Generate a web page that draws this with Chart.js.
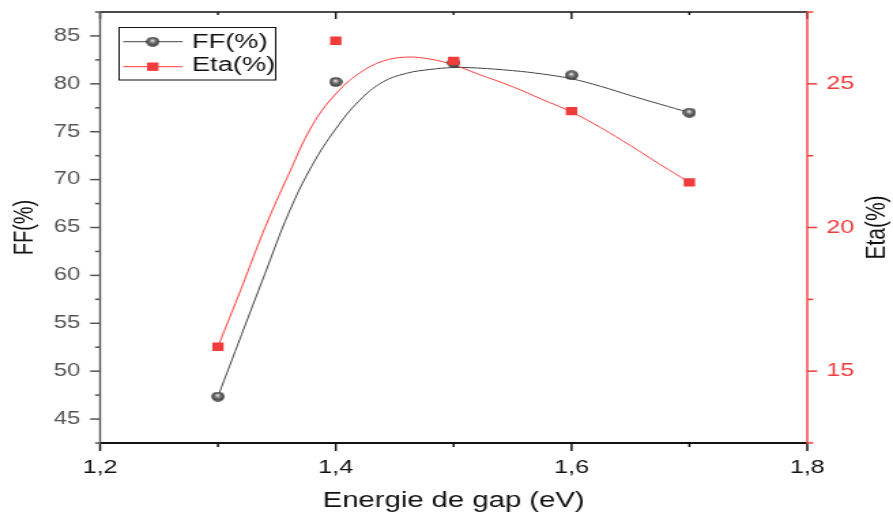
<!DOCTYPE html>
<html>
<head>
<meta charset="utf-8">
<title>FF et Eta vs Energie de gap</title>
<script src="https://cdn.jsdelivr.net/npm/chart.js@4.4.1/dist/chart.umd.min.js"></script>
<style>
  html, body { margin: 0; padding: 0; background: #fff; }
</style>
</head>
<body>
<!-- the original figure is stretched horizontally, so the canvas is drawn narrower and widened by css -->
<canvas id="gapChart" width="656" height="516" style="display:block;width:893px;height:516px"></canvas>
<script>
// measured points
const gapEnergy = [1.3, 1.4, 1.5, 1.6, 1.7];
const ffValues = [47.35, 80.2, 82.2, 80.9, 77.0];
const etaValues = [15.85, 26.5, 25.8, 24.05, 21.57];

// smoothed curves
const fitEnergy = [1.30, 1.32, 1.34, 1.36, 1.38, 1.40, 1.42, 1.44, 1.46, 1.48, 1.50, 1.52, 1.55, 1.575, 1.60, 1.625, 1.65, 1.675, 1.70];
const ffFit = [47.35, 53.8, 60.2, 66.5, 71.5, 75.3, 78.25, 80.2, 81.1, 81.5, 81.7, 81.65, 81.38, 81.03, 80.53, 79.73, 78.78, 77.88, 77.0];
const etaFit = [15.85, 17.9, 20.0, 21.85, 23.55, 24.65, 25.37, 25.79, 25.93, 25.86, 25.66, 25.35, 24.9, 24.46, 24.02, 23.47, 22.85, 22.2, 21.57];

// axis ticks
const xTicks = [1.2, 1.4, 1.6, 1.8];
const xMinor = [1.3, 1.5, 1.7];
const ffTicks = [45, 50, 55, 60, 65, 70, 75, 80, 85];
const ffMinor = [42.5, 47.5, 52.5, 57.5, 62.5, 67.5, 72.5, 77.5, 82.5, 87.5];
const etaTicks = [15, 20, 25];
const etaMinor = [12.5, 17.5, 22.5, 27.5];

const RED = '#f03c3c';
const FONT = "'Liberation Sans', Arial, sans-serif";
Chart.defaults.font.family = FONT;

// grey shaded ball used as the FF marker
function makeBall(d) {
    let c = document.createElement('canvas');
    c.width = d; c.height = d;
    let g = c.getContext('2d');
    let r = d / 2;
    let grad = g.createRadialGradient(r * 0.95, r * 0.75, 0.3, r, r, r);
    grad.addColorStop(0, '#f2f2f2');
    grad.addColorStop(0.3, '#8a8a8a');
    grad.addColorStop(0.75, '#4a4a4a');
    grad.addColorStop(1, '#2a2a2a');
    g.fillStyle = grad;
    g.beginPath();
    g.arc(r, r, r - 0.2, 0, Math.PI * 2);
    g.fill();
    return c;
}
const ball = makeBall(10);

function seg(ctx, x1, y1, x2, y2) {
    ctx.beginPath();
    ctx.moveTo(x1, y1);
    ctx.lineTo(x2, y2);
    ctx.stroke();
}

// keep the plot box fixed: no extra room for half labels
function noPad(s) {
    s.paddingTop = 0;
    s.paddingBottom = 0;
    s.paddingLeft = 0;
    s.paddingRight = 0;
}

// Origin style frame: outward ticks, inner ticks on top, red right axis
const frame = {
    id: 'frame',
    afterDraw(chart) {
        const { ctx, chartArea: a, scales } = chart;
        const sx = scales.x, sl = scales.yFF, sr = scales.yEta;
        ctx.save();
        ctx.lineCap = 'butt';

        // top
        ctx.strokeStyle = '#111';
        ctx.lineWidth = 1.4;
        seg(ctx, a.left, a.top, a.right, a.top);
        xTicks.forEach(v => { let p = sx.getPixelForValue(v); seg(ctx, p, a.top, p, a.top + 7); });
        xMinor.forEach(v => { let p = sx.getPixelForValue(v); seg(ctx, p, a.top, p, a.top + 3); });

        // bottom
        ctx.lineWidth = 1.8;
        seg(ctx, a.left, a.bottom, a.right, a.bottom);
        ctx.lineWidth = 1.5;
        xTicks.forEach(v => { let p = sx.getPixelForValue(v); seg(ctx, p, a.bottom, p, a.bottom + 8); });
        xMinor.forEach(v => { let p = sx.getPixelForValue(v); seg(ctx, p, a.bottom, p, a.bottom + 4); });

        // left
        ctx.strokeStyle = '#555';
        ctx.lineWidth = 1.4;
        seg(ctx, a.left, a.top - 0.7, a.left, a.bottom + 0.9);
        ctx.lineWidth = 1.5;
        ffTicks.forEach(v => { let p = sl.getPixelForValue(v); seg(ctx, a.left, p, a.left - 7.3, p); });
        ffMinor.forEach(v => { let p = sl.getPixelForValue(v); seg(ctx, a.left, p, a.left - 3.7, p); });

        // right
        ctx.strokeStyle = RED;
        ctx.lineWidth = 1.4;
        seg(ctx, a.right, a.top - 0.7, a.right, a.bottom + 0.9);
        ctx.lineWidth = 1.5;
        etaTicks.forEach(v => { let p = sr.getPixelForValue(v); seg(ctx, a.right, p, a.right + 7.3, p); });
        etaMinor.forEach(v => { let p = sr.getPixelForValue(v); seg(ctx, a.right, p, a.right + 4.4, p); });

        // right title reads bottom to top
        ctx.fillStyle = '#111';
        ctx.font = '21px ' + FONT;
        ctx.textAlign = 'center';
        ctx.textBaseline = 'middle';
        ctx.translate(644, (a.top + a.bottom) / 2);
        ctx.rotate(-Math.PI / 2);
        ctx.fillText('Eta(%)', 0, 0);

        ctx.restore();
    }
};

// boxed legend with line + marker + line
const boxLegend = {
    id: 'boxLegend',
    afterDraw(chart) {
        const ctx = chart.ctx;
        ctx.save();
        ctx.strokeStyle = '#111';
        ctx.lineWidth = 1;
        ctx.strokeRect(87.5, 27.5, 115, 52.5);

        ctx.lineWidth = 1;
        ctx.strokeStyle = '#444';
        seg(ctx, 90.5, 41.7, 134.2, 41.7);
        ctx.drawImage(ball, 112.2 - 5, 41.7 - 5);

        ctx.strokeStyle = '#ff3b3b';
        seg(ctx, 90.5, 66.7, 134.2, 66.7);
        ctx.fillStyle = RED;
        ctx.fillRect(112.2 - 4.2, 66.7 - 4.2, 8.4, 8.4);

        ctx.fillStyle = '#111';
        ctx.font = '20px ' + FONT;
        ctx.textBaseline = 'middle';
        ctx.fillText('FF(%)', 141, 42.5);
        ctx.fillText('Eta(%)', 141, 65.5);
        ctx.restore();
    }
};

const pts = (xs, ys) => xs.map((x, i) => ({ x: x, y: ys[i] }));

let ctx = document.getElementById('gapChart').getContext('2d');
let chart = new Chart(ctx, {
    type: 'line',
    data: {
        datasets: [
            {
                label: 'Eta(%)',
                data: pts(gapEnergy, etaValues),
                yAxisID: 'yEta',
                showLine: false,
                pointStyle: 'rect',
                pointRadius: 5.9,
                pointBackgroundColor: RED,
                pointBorderColor: RED,
                pointBorderWidth: 0,
                order: 0
            },
            {
                label: 'FF(%)',
                data: pts(gapEnergy, ffValues),
                yAxisID: 'yFF',
                showLine: false,
                pointStyle: ball,
                pointRadius: 5,
                order: 1
            },
            {
                label: 'Eta fit',
                data: pts(fitEnergy, etaFit),
                yAxisID: 'yEta',
                borderColor: '#ff3b3b',
                borderWidth: 1,
                pointRadius: 0,
                tension: 0.4,
                fill: false,
                order: 2
            },
            {
                label: 'FF fit',
                data: pts(fitEnergy, ffFit),
                yAxisID: 'yFF',
                borderColor: '#444',
                borderWidth: 1,
                pointRadius: 0,
                tension: 0.4,
                fill: false,
                order: 3
            }
        ]
    },
    options: {
        responsive: false,
        animation: false,
        devicePixelRatio: 1,
        layout: { padding: { top: 12, left: 0, right: 0, bottom: 0 } },
        plugins: {
            legend: { display: false },
            tooltip: { enabled: false }
        },
        scales: {
            x: {
                type: 'linear',
                min: 1.2,
                max: 1.8,
                afterBuildTicks: s => { s.ticks = xTicks.map(v => ({ value: v })); },
                afterFit: s => { s.height = 73; noPad(s); },
                grid: { display: false, drawTicks: false },
                border: { display: false },
                ticks: {
                    color: '#111',
                    font: { size: 18.5 },
                    padding: 14,
                    autoSkip: false,
                    maxRotation: 0,
                    callback: v => v.toFixed(1).replace('.', ',')
                },
                title: {
                    display: true,
                    text: 'Energie de gap (eV)',
                    color: '#111',
                    font: { size: 21.5 },
                    padding: { top: 0, bottom: 2 }
                }
            },
            yFF: {
                type: 'linear',
                position: 'left',
                min: 42.5,
                max: 87.5,
                afterBuildTicks: s => { s.ticks = ffTicks.map(v => ({ value: v })); },
                afterFit: s => { s.width = 73.5; noPad(s); },
                grid: { display: false, drawTicks: false },
                border: { display: false },
                ticks: { color: '#555', font: { size: 17.5 }, padding: 14.5 },
                title: {
                    display: true,
                    text: 'FF(%)',
                    color: '#111',
                    font: { size: 20 },
                    padding: { top: 6.5, bottom: 0 }
                }
            },
            yEta: {
                type: 'linear',
                position: 'right',
                min: 12.5,
                max: 27.5,
                afterBuildTicks: s => { s.ticks = etaTicks.map(v => ({ value: v })); },
                afterFit: s => { s.width = 63; noPad(s); },
                grid: { display: false, drawTicks: false },
                border: { display: false },
                ticks: { color: RED, font: { size: 18.5 }, padding: 14 },
                title: { display: false, text: 'Eta(%)' }
            }
        }
    },
    plugins: [frame, boxLegend]
});
</script>
</body>
</html>
